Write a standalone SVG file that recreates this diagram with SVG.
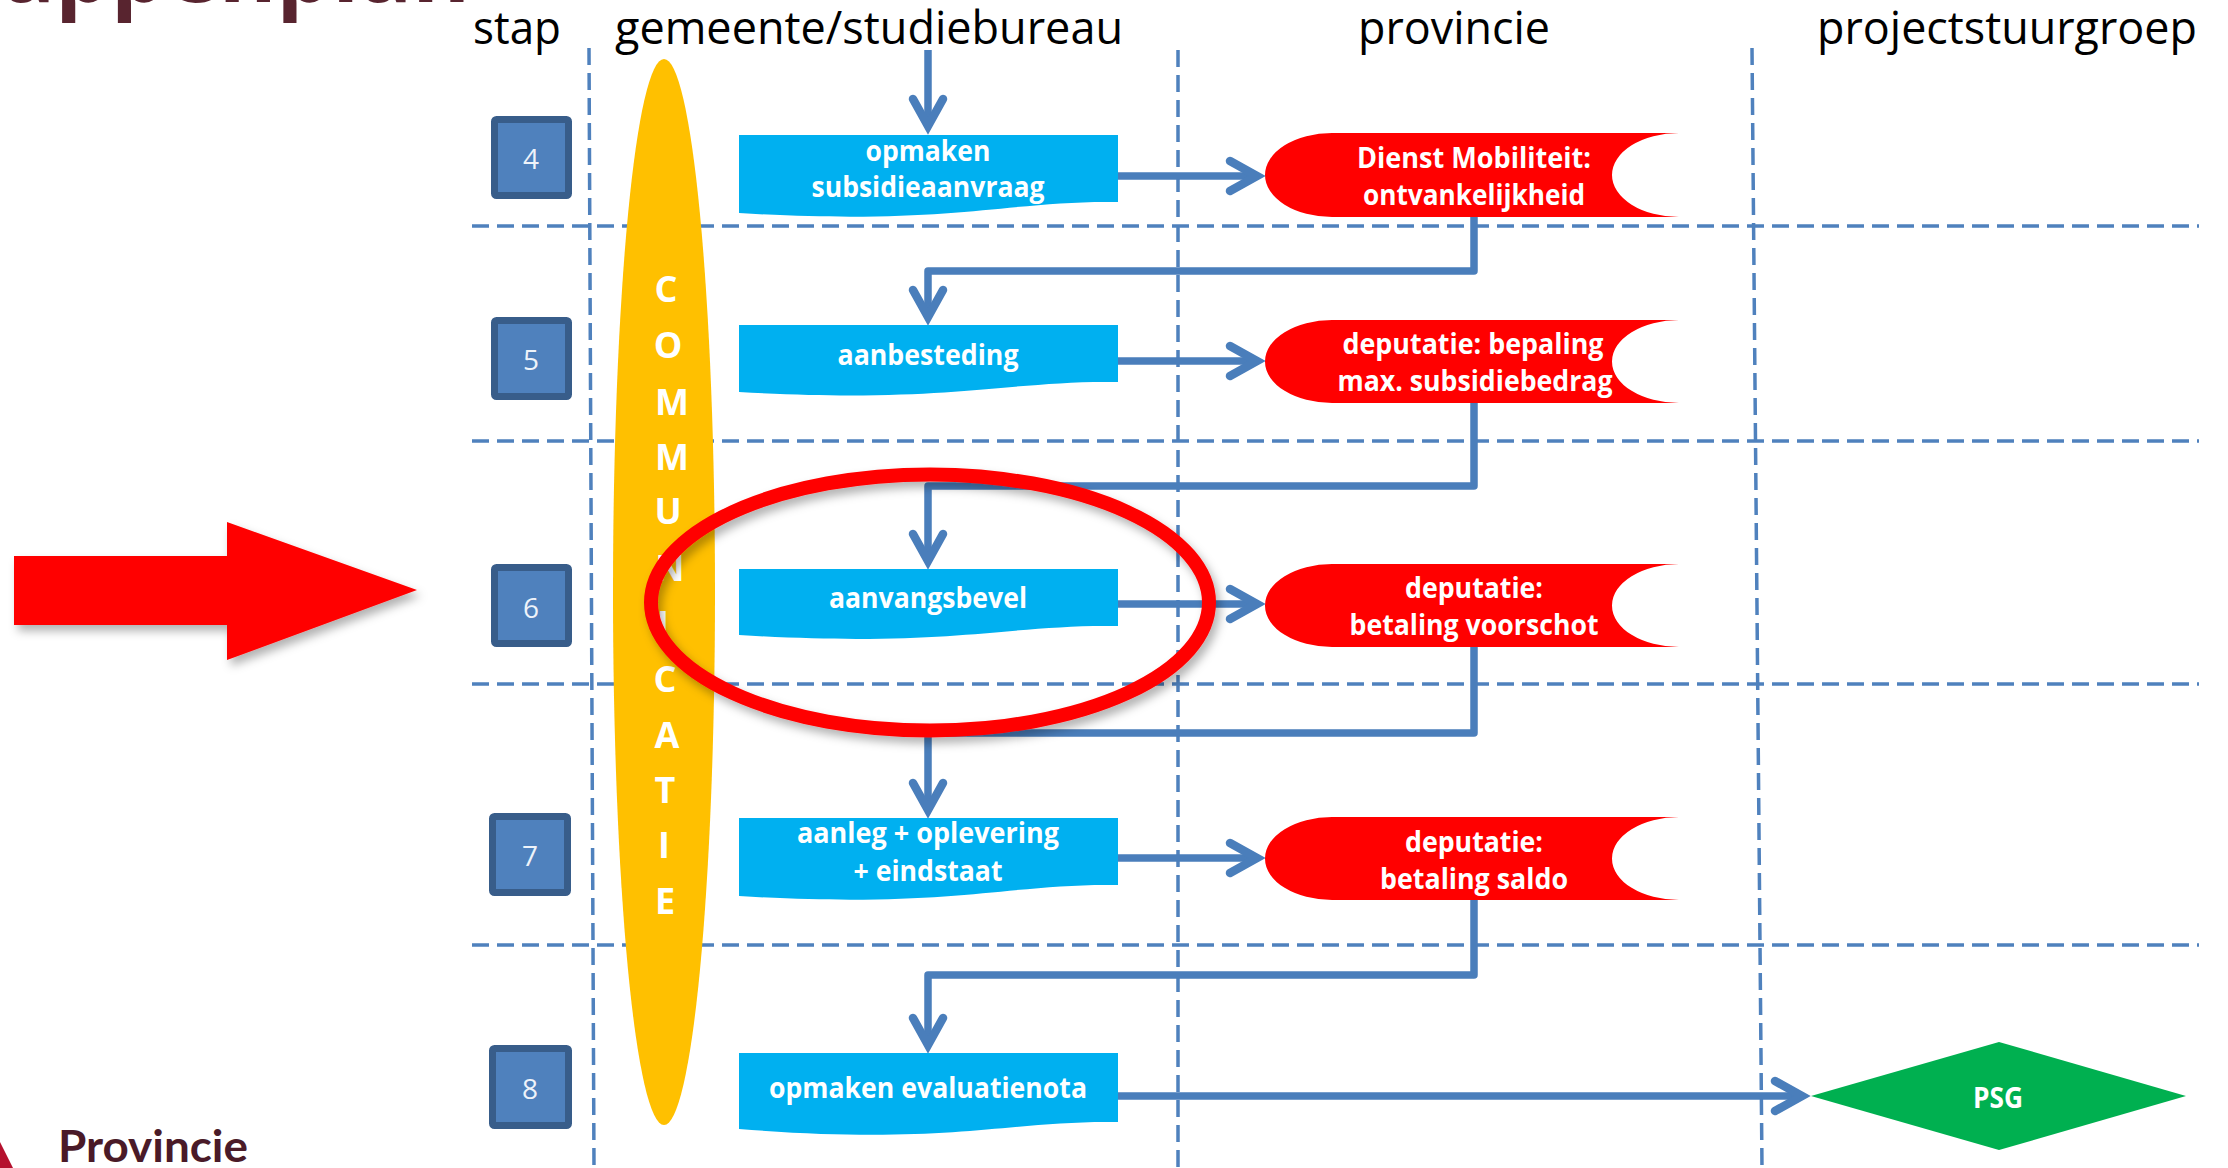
<svg xmlns="http://www.w3.org/2000/svg" width="2228" height="1168" viewBox="0 0 2228 1168">
<style>
text{font-family:"Open Sans","Noto Sans","Liberation Sans",sans-serif}
.hd{font-size:46px;fill:#000;text-anchor:start}
.b{font-weight:700;fill:#fff;font-size:28px;text-anchor:middle}
.num{font-size:28px;fill:#eef3fa;text-anchor:middle}
.ltr{font-size:36px;font-weight:700;fill:#fff;text-anchor:middle}
.grid{fill:none;stroke:#4f81bd;stroke-width:3.5;stroke-dasharray:17 8}
.con{fill:none;stroke:#4a7ebb;stroke-width:7.500}
.step{fill:#4f81bd;stroke:#385d8a;stroke-width:7}
.doc{fill:#00b0f0}
.store{fill:#f00}
</style>
<defs>
<marker id="arr" markerUnits="userSpaceOnUse" markerWidth="60" markerHeight="60" viewBox="-40 -30 60 60" refX="0" refY="0" orient="auto" overflow="visible">
<path d="M-27,-15 L0,0 L-27,15" fill="none" stroke="#4a7ebb" stroke-width="8.500" stroke-linecap="round"/>
</marker>
<filter id="shadow" x="-10%" y="-15%" width="120%" height="135%">
<feDropShadow dx="4" dy="6" stdDeviation="5" flood-color="#000" flood-opacity="0.3"/>
</filter>
</defs>
<rect width="2228" height="1168" fill="#fff"/>
<text x="470" y="2" font-weight="700" fill="#58242f" text-anchor="end" style="font-size:88px">stappenplan</text>
<g id="headers">
<text class="hd" x="473" y="44" textLength="88" lengthAdjust="spacingAndGlyphs">stap</text>
<text class="hd" x="615" y="44" textLength="508" lengthAdjust="spacingAndGlyphs">gemeente/studiebureau</text>
<text class="hd" x="1358" y="44" textLength="192" lengthAdjust="spacingAndGlyphs">provincie</text>
<text class="hd" x="1817" y="44" textLength="380" lengthAdjust="spacingAndGlyphs">projectstuurgroep</text>
</g>
<g id="grid">
<path class="grid" d="M589,48 L594,1168"/>
<path class="grid" d="M1178,50 V1168"/>
<path class="grid" d="M1752,48 L1762,1168"/>
<path class="grid" d="M472,226 H2199"/>
<path class="grid" d="M472,441 H2199"/>
<path class="grid" d="M472,684 H2199"/>
<path class="grid" d="M472,945 H2199"/>
</g>
<g id="communicatie">
<ellipse cx="664" cy="592" rx="51" ry="533" fill="#ffc000"/>
<text class="ltr" x="666" y="302">C</text>
<text class="ltr" x="668" y="358">O</text>
<text class="ltr" x="672" y="415">M</text>
<text class="ltr" x="672" y="470">M</text>
<text class="ltr" x="668" y="524">U</text>
<text class="ltr" x="670" y="581">N</text>
<text class="ltr" x="663" y="637">I</text>
<text class="ltr" x="665" y="692">C</text>
<text class="ltr" x="667" y="748">A</text>
<text class="ltr" x="665" y="803">T</text>
<text class="ltr" x="664" y="858">I</text>
<text class="ltr" x="665" y="914">E</text>
</g>
<g id="connectors">
<path class="con" marker-end="url(#arr)" d="M928,50 V126"/>
<path class="con" marker-end="url(#arr)" d="M1118,176 H1257"/>
<path class="con" stroke-linejoin="round" marker-end="url(#arr)" d="M1474,217 V271 H928 V317"/>
<path class="con" marker-end="url(#arr)" d="M1118,361 H1257"/>
<path class="con" stroke-linejoin="round" marker-end="url(#arr)" d="M1474,403 V486 H928 V561"/>
<path class="con" marker-end="url(#arr)" d="M1118,604 H1257"/>
<path class="con" stroke-linejoin="round" marker-end="url(#arr)" d="M1474,647 V733 H928 V810"/>
<path class="con" marker-end="url(#arr)" d="M1118,858 H1257"/>
<path class="con" stroke-linejoin="round" marker-end="url(#arr)" d="M1474,900 V975 H928 V1045"/>
<path class="con" marker-end="url(#arr)" d="M1118,1096 H1802"/>
</g>
<g id="step4"><rect class="step" x="494.500" y="119.500" width="74" height="76" rx="2"/><text class="num" x="531" y="169">4</text></g>
<g id="step5"><rect class="step" x="494.500" y="320.500" width="74" height="76" rx="2"/><text class="num" x="531" y="370">5</text></g>
<g id="step6"><rect class="step" x="494.500" y="567.500" width="74" height="76" rx="2"/><text class="num" x="531" y="618">6</text></g>
<g id="step7"><rect class="step" x="492.500" y="816.500" width="75" height="76" rx="2"/><text class="num" x="530" y="866">7</text></g>
<g id="step8"><rect class="step" x="492.500" y="1048.500" width="76" height="77" rx="2"/><text class="num" x="530" y="1099">8</text></g>
<g id="doc4"><path class="doc" d="M739,135 H1118 V202 C1010,200 950,226 739,213 Z"/>
<text class="b" x="928" y="161" textLength="125" lengthAdjust="spacingAndGlyphs">opmaken</text>
<text class="b" x="928" y="197" textLength="233" lengthAdjust="spacingAndGlyphs">subsidieaanvraag</text></g>
<g id="doc5"><path class="doc" d="M739,325 H1118 V382 C1010,380 950,404 739,392 Z"/>
<text class="b" x="928" y="365" textLength="181" lengthAdjust="spacingAndGlyphs">aanbesteding</text></g>
<g id="doc6"><path class="doc" d="M739,569 H1118 V626 C1010,624 950,648 739,635 Z"/>
<text class="b" x="928" y="608" textLength="198" lengthAdjust="spacingAndGlyphs">aanvangsbevel</text></g>
<g id="doc7"><path class="doc" d="M739,818 H1118 V885 C1010,883 950,909 739,896 Z"/>
<text class="b" x="928" y="843" textLength="262" lengthAdjust="spacingAndGlyphs">aanleg + oplevering</text>
<text class="b" x="928" y="881" textLength="149" lengthAdjust="spacingAndGlyphs">+ eindstaat</text></g>
<g id="doc8"><path class="doc" d="M739,1053 H1118 V1122 C1010,1120 950,1146 739,1129 Z"/>
<text class="b" x="928" y="1098" textLength="318" lengthAdjust="spacingAndGlyphs">opmaken evaluatienota</text></g>
<g id="store4"><path class="store" d="M1332,133 H1679 A67,42 0 0 0 1612,175 A67,42 0 0 0 1679,217 H1332 A67,42 0 0 1 1332,133 Z"/>
<text class="b" x="1474" y="168" textLength="234" lengthAdjust="spacingAndGlyphs">Dienst Mobiliteit:</text>
<text class="b" x="1474" y="205" textLength="222" lengthAdjust="spacingAndGlyphs">ontvankelijkheid</text></g>
<g id="store5"><path class="store" d="M1332,320 H1679 A67,41.500 0 0 0 1612,361.500 A67,41.500 0 0 0 1679,403 H1332 A67,41.500 0 0 1 1332,320 Z"/>
<text class="b" x="1473" y="354" textLength="261" lengthAdjust="spacingAndGlyphs">deputatie: bepaling</text>
<text class="b" x="1475" y="391" textLength="275" lengthAdjust="spacingAndGlyphs">max. subsidiebedrag</text></g>
<g id="store6"><path class="store" d="M1332,564 H1679 A67,41.500 0 0 0 1612,605.500 A67,41.500 0 0 0 1679,647 H1332 A67,41.500 0 0 1 1332,564 Z"/>
<text class="b" x="1474" y="598" textLength="138" lengthAdjust="spacingAndGlyphs">deputatie:</text>
<text class="b" x="1474" y="635" textLength="249" lengthAdjust="spacingAndGlyphs">betaling voorschot</text></g>
<g id="store7"><path class="store" d="M1332,817 H1679 A67,41.500 0 0 0 1612,858.500 A67,41.500 0 0 0 1679,900 H1332 A67,41.500 0 0 1 1332,817 Z"/>
<text class="b" x="1474" y="852" textLength="138" lengthAdjust="spacingAndGlyphs">deputatie:</text>
<text class="b" x="1474" y="889" textLength="188" lengthAdjust="spacingAndGlyphs">betaling saldo</text></g>
<g id="psg"><polygon points="1811,1096 1999,1042 2186,1096 1999,1150" fill="#00b050"/>
<text class="b" x="1998" y="1108" textLength="50" lengthAdjust="spacingAndGlyphs">PSG</text></g>
<g id="ring"><ellipse cx="930" cy="602.500" rx="279" ry="128" fill="none" stroke="#f00" stroke-width="14" filter="url(#shadow)"/></g>
<g id="bigarrow"><polygon points="14,556 227,556 227,522 417,590 227,660 227,625 14,625" fill="#f00" filter="url(#shadow)"/></g>
<g id="logo"><polygon points="0,1142 13,1168 0,1168" fill="#b5112e"/>
<text x="58" y="1162" style="font-family:Lato,'Open Sans',sans-serif;font-size:44px;font-weight:700" fill="#4a1a28" textLength="190" lengthAdjust="spacingAndGlyphs">Provincie</text></g>
</svg>
